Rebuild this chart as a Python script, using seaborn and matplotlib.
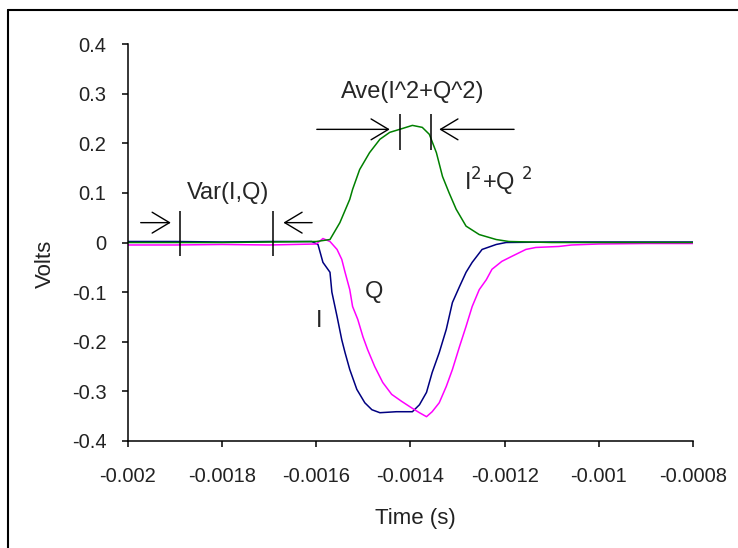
import pandas as pd
import matplotlib.pyplot as plt
import seaborn as sns
from matplotlib.lines import Line2D

# I channel (blue)
i_time = [-0.002, -0.0019, -0.0018, -0.0017, -0.00161, -0.0015965, -0.001586, -0.001571, -0.001567,
          -0.001556, -0.001546, -0.001539, -0.001529, -0.001514, -0.001497, -0.001482, -0.001465,
          -0.00143, -0.001396, -0.001381, -0.001366, -0.001354, -0.001339, -0.001324, -0.001311,
          -0.001296, -0.001282, -0.001269, -0.001248, -0.001218, -0.001197, -0.0011, -0.001,
          -0.0009, -0.0008]
i_volts = [0.002, 0.002, 0.001, 0.002, 0.002, -0.004, -0.04, -0.06, -0.10,
           -0.149, -0.196, -0.222, -0.256, -0.296, -0.323, -0.337, -0.343,
           -0.341, -0.341, -0.327, -0.302, -0.262, -0.222, -0.175, -0.121,
           -0.089, -0.060, -0.040, -0.014, -0.004, 0.0, 0.001, 0.001,
           0.001, 0.001]

# Q channel (magenta)
q_time = [-0.002, -0.0019, -0.0018, -0.0017, -0.0016, -0.001586, -0.001571, -0.001556, -0.001546,
          -0.001539, -0.001529, -0.001523, -0.001512, -0.001501, -0.001491, -0.001476, -0.001459,
          -0.00144, -0.001419, -0.001398, -0.001381, -0.001366, -0.001354, -0.001339, -0.001324,
          -0.001311, -0.001296, -0.001282, -0.001269, -0.001254, -0.001239, -0.001227, -0.001206,
          -0.001185, -0.001155, -0.001134, -0.001085, -0.001058, -0.001, -0.0009, -0.0008]
q_volts = [-0.005, -0.005, -0.004, -0.005, -0.003, 0.008, 0.002, -0.014, -0.034,
           -0.06, -0.095, -0.129, -0.155, -0.19, -0.216, -0.25, -0.282,
           -0.306, -0.32, -0.333, -0.343, -0.351, -0.341, -0.323, -0.29,
           -0.256, -0.21, -0.169, -0.129, -0.095, -0.075, -0.054, -0.038,
           -0.028, -0.014, -0.01, -0.008, -0.005, -0.003, -0.002, -0.002]

# I^2 + Q^2 (green)
p_time = [-0.002, -0.0018, -0.0016, -0.001571, -0.00155, -0.001529, -0.001523, -0.001508,
          -0.001487, -0.001465, -0.001444, -0.001423, -0.001396, -0.001375, -0.00136, -0.001345,
          -0.001332, -0.001318, -0.001303, -0.001282, -0.001254, -0.001218, -0.001191, -0.0011,
          -0.001, -0.0008]
p_volts = [0.0, 0.0, 0.002, 0.006, 0.04, 0.087, 0.107, 0.147,
           0.181, 0.208, 0.222, 0.228, 0.236, 0.232, 0.218, 0.181,
           0.133, 0.10, 0.067, 0.033, 0.016, 0.006, 0.002, 0.0,
           0.0, 0.0]

x_ticks = [-0.002, -0.0018, -0.0016, -0.0014, -0.0012, -0.001, -0.0008]
x_labels = ["-0.002", "-0.0018", "-0.0016", "-0.0014", "-0.0012", "-0.001", "-0.0008"]
y_ticks = [-0.4, -0.3, -0.2, -0.1, 0, 0.1, 0.2, 0.3, 0.4]
y_labels = ["-0.4", "-0.3", "-0.2", "-0.1", "0", "0.1", "0.2", "0.3", "0.4"]

df = pd.concat([
    pd.DataFrame({"Time": i_time, "Volts": i_volts, "Signal": "I"}),
    pd.DataFrame({"Time": q_time, "Volts": q_volts, "Signal": "Q"}),
    pd.DataFrame({"Time": p_time, "Volts": p_volts, "Signal": "I2+Q2"}),
])

sns.set_style("white")
plt.rcParams['font.family'] = ['Liberation Sans', 'DejaVu Sans']

fig = plt.figure(figsize=(7.38, 5.48), dpi=100)
ax = fig.add_axes([128 / 738, 1 - 441 / 548, 565 / 738, 397 / 548])

sns.lineplot(data=df, x="Time", y="Volts", hue="Signal", estimator=None, sort=False,
             palette={"I": "#000080", "Q": "#ff00ff", "I2+Q2": "#008000"},
             linewidth=1.1, legend=False, ax=ax)

ax.set_xlim(-0.002, -0.0008)
ax.set_ylim(-0.4, 0.4)
ax.set_xticks(x_ticks)
ax.set_xticklabels(x_labels)
ax.set_yticks(y_ticks)
ax.set_yticklabels(y_labels)
ax.tick_params(axis="both", direction="out", length=4.5, width=1.1, color="black",
               labelsize=14.5, labelcolor="#222222", left=True, bottom=True)
ax.tick_params(axis="y", pad=11)
ax.tick_params(axis="x", pad=14)
sns.despine(ax=ax)
for s in ["left", "bottom"]:
    ax.spines[s].set_color("black")
    ax.spines[s].set_linewidth(1.1)

ax.set_xlabel("Time (s)", fontsize=16, va="center", color="#222222")
ax.set_ylabel("Volts", fontsize=16, va="center", color="#222222")
ax.xaxis.set_label_coords(0.508, -0.194)
ax.yaxis.set_label_coords(-0.147, 0.446)

# annotations
arrow = dict(arrowstyle="->,head_length=0.5,head_width=0.3", color="black", lw=1.0,
             mutation_scale=25, shrinkA=0, shrinkB=0)
ax.text(-0.001787, 0.1, "Var(I,Q)", fontsize=17, ha="center", va="center")
ax.vlines([-0.00189, -0.001692], -0.028, 0.0625, color="black", lw=1.1)
ax.annotate("", xy=(-0.001909, 0.040), xytext=(-0.001973, 0.040), arrowprops=arrow)
ax.annotate("", xy=(-0.00167, 0.040), xytext=(-0.001609, 0.040), arrowprops=arrow)

ax.text(-0.001396, 0.304, "Ave(I^2+Q^2)", fontsize=17, ha="center", va="center")
ax.vlines([-0.001423, -0.001356], 0.187, 0.258, color="black", lw=1.1)
ax.annotate("", xy=(-0.001444, 0.228), xytext=(-0.001599, 0.228), arrowprops=arrow)
ax.annotate("", xy=(-0.001339, 0.228), xytext=(-0.00118, 0.228), arrowprops=arrow)

ax.text(-0.001214, 0.123, "I$^2$+Q $^2$", fontsize=17, ha="center", va="center")
ax.text(-0.001478, -0.099, "Q", fontsize=17, ha="center", va="center")
ax.text(-0.001594, -0.159, "I", fontsize=17, ha="center", va="center")

# chart area border (top and left visible)
fig.add_artist(Line2D([8 / 738, 8 / 738], [0, 1 - 10 / 548], color="black", lw=1.5))
fig.add_artist(Line2D([8 / 738, 1], [1 - 10 / 548, 1 - 10 / 548], color="black", lw=1.5))

plt.savefig("out.png", dpi=100)
